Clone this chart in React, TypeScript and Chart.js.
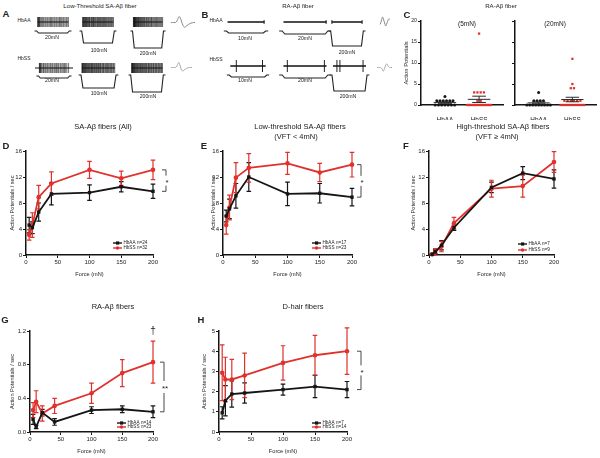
import React, { useEffect, useRef } from 'react';
import { Chart, registerables } from 'chart.js';
Chart.register(...registerables);

const FONT = "'Liberation Sans', Arial, Helvetica, sans-serif";
const RED = '#e0312d';
const BLK = '#151515';

// ---------- D–H : force–response data ----------
const forces = [5, 10, 20, 40, 100, 150, 200];
const forceTicks = [0, 50, 100, 150, 200];

const allAA = [4.6, 4.2, 6.6, 9.4, 9.6, 10.5, 9.8];
const allAAErr = [1.2, 0.9, 1.4, 1.7, 1.2, 0.8, 1.1];
const allSS = [3.1, 4.6, 8.9, 11.0, 13.1, 11.8, 13.1];
const allSSErr = [0.8, 1.9, 1.8, 1.8, 1.3, 1.1, 1.5];

const lowAA = [6.0, 7.1, 9.1, 12.0, 9.4, 9.5, 8.9];
const lowAAErr = [0.9, 1.5, 1.9, 2.2, 1.8, 1.5, 1.35];
const lowSS = [4.6, 7.3, 11.9, 13.4, 14.1, 12.7, 13.9];
const lowSSErr = [1.4, 1.9, 2.3, 2.2, 1.7, 1.4, 1.9];

const highAA = [0.1, 0.5, 1.5, 4.2, 10.4, 12.6, 11.7];
const highAAErr = [0.1, 0.3, 0.7, 0.4, 0.8, 1.0, 1.4];
const highSS = [0.1, 0.5, 1.3, 4.9, 10.2, 10.6, 14.3];
const highSSErr = [0.1, 0.5, 0.8, 0.9, 1.3, 1.7, 1.6];

const raAA = [0.15, 0.06, 0.23, 0.12, 0.26, 0.27, 0.24];
const raAAErr = [0.06, 0.02, 0.04, 0.04, 0.04, 0.04, 0.07];
const raSS = [0.26, 0.36, 0.22, 0.31, 0.46, 0.70, 0.83];
const raSSErr = [0.09, 0.13, 0.09, 0.09, 0.12, 0.16, 0.25];

const dhAA = [0.95, 1.55, 1.88, 1.93, 2.1, 2.25, 2.1];
const dhAAErr = [0.3, 0.75, 0.65, 0.5, 0.27, 0.55, 0.4];
const dhSS = [2.93, 2.6, 2.6, 2.8, 3.42, 3.8, 4.0];
const dhSSErr = [1.38, 1.1, 1.0, 1.1, 0.85, 0.98, 1.15];

const ticks16 = [0, 4, 8, 12, 16];
const ticksRA = [0, 0.4, 0.8, 1.2];
const ticksDH = [0, 1, 2, 3, 4, 5];

// ---------- C : dot plots ----------
const cGroups = ['HbAA', 'HbSS'];
const cTicks = [0, 5, 10, 15, 20];
const c5AA = [2, 1, 1, 1, 1, 1, 1, 0, 0, 0, 0, 0, 0, 0];
const c5SS = [17, 3, 3, 3, 3, 1, 1, 0, 0, 0, 0, 0, 0, 0, 0, 0, 0, 0, 0, 0, 0, 0, 0];
const c20AA = [3, 1, 1, 1, 1, 0, 0, 0, 0, 0, 0, 0, 0, 0];
const c20SS = [11, 5, 4, 4, 1, 1, 1, 1, 1, 1, 0, 0, 0, 0, 0, 0, 0, 0, 0, 0, 0, 0, 0];

// ---------- A/B : recordings ----------
const stepT = [-10, -3, 3, 97, 103, 110];
const stepLevel = [0, 0, 1, 1, 0, 0];
const spkAA20 = [0, 1.5, 3, 4.5, 6, 8, 11, 14, 17, 20, 24, 27, 31, 34, 38, 42, 45, 49, 53, 56, 60, 63, 67, 71, 74, 78, 82, 85, 89, 93, 96, 100];
const spkAA100 = [0, 1, 3, 4, 6, 8, 9, 11, 13, 14, 16, 19, 21, 22, 24, 27, 29, 31, 33, 35, 36, 39, 41, 43, 46, 48, 50, 52, 55, 57, 59, 61, 64, 66, 68, 71, 73, 75, 78, 80, 83, 85, 88, 90, 93, 95, 98, 100];
const spkAA200 = [0, 1, 2, 3, 4, 5, 6, 7, 9, 10, 12, 13, 15, 17, 18, 20, 22, 24, 26, 28, 31, 33, 35, 38, 40, 43, 45, 48, 51, 53, 56, 59, 62, 64, 67, 70, 73, 76, 79, 82, 85, 88, 91, 94, 97, 100];
const spkSS20 = [0, 1, 2, 4, 6, 9, 13, 15, 19, 22, 26, 29, 33, 37, 40, 44, 47, 52, 56, 59, 63, 66, 71, 74, 78, 82, 86, 90, 94, 100];
const spkSS100 = [0, 1, 2, 3, 5, 6, 8, 9, 11, 12, 14, 16, 18, 19, 21, 23, 25, 27, 29, 30, 32, 34, 36, 38, 40, 42, 44, 46, 48, 50, 52, 54, 56, 58, 61, 63, 65, 67, 70, 72, 74, 77, 79, 81, 84, 86, 89, 91, 94, 96, 99];
const spkSS200 = [0, 1, 2, 3, 4, 6, 7, 9, 10, 12, 14, 15, 17, 19, 21, 23, 25, 27, 29, 31, 33, 35, 37, 39, 42, 44, 46, 48, 50, 53, 55, 57, 59, 62, 64, 66, 69, 71, 73, 76, 78, 81, 83, 86, 88, 91, 93, 96, 98, 100];
const spkRaAA10 = [99];
const spkRaAA20 = [99];
const spkRaAA200 = [1, 99];
const spkRaSS10 = [17, 91];
const spkRaSS20 = [9, 95];
const spkRaSS200 = [12, 21, 91];
const waveAA = [0, 0, 0, 0, 0.1, 0.5, 1, 0.8, 0.1, -0.5, -0.8, -0.7, -0.5, -0.35, -0.2, -0.1, -0.05, 0, 0];
const waveSS = [0, 0, 0, 0, 0.1, 0.6, 1, 0.3, -0.5, -0.7, -0.5, -0.3, -0.15, -0.05, 0, 0, 0];
const waveRaAA = [-0.6, -0.2, 0.4, 0.9, 0.6, 0, -0.6, -0.9, -0.5, 0, 0.4, 0.5, 0.4];
const waveRaSS = [0, 0, 0, 0, -0.3, -0.9, -0.3, 0.6, 0.9, 0.3, 0, 0, 0];

// ---------- helpers ----------
function ChartBox({ left, top, width, height, make }: { left: number; top: number; width: number; height: number; make: () => any }) {
  const ref = useRef<HTMLCanvasElement | null>(null);
  useEffect(() => {
    const chart = new Chart(ref.current as HTMLCanvasElement, make());
    return () => chart.destroy();
  }, []);
  return (
    <canvas
      ref={ref}
      width={width}
      height={height}
      style={{ position: 'absolute', left, top, width, height }}
    />
  );
}

function Label({ x, y, text, size = 6, bold = false, color = '#222' }: { x: number; y: number; text: string; size?: number; bold?: boolean; color?: string }) {
  return (
    <div
      style={{
        position: 'absolute', left: x, top: y, transform: 'translate(-50%, -50%)',
        fontFamily: FONT, fontSize: size, fontWeight: bold ? 700 : 400, color,
        whiteSpace: 'nowrap', lineHeight: 1,
      }}
    >
      {text}
    </div>
  );
}

const baseOpts = {
  responsive: false,
  animation: false,
  events: [] as any[],
};

interface PanelSpec {
  left: number; top: number; width: number; height: number;
  yAxisW: number; xAxisH: number; padTop: number; padRight: number;
  yTitleX: number; xTitleY: number;
  yMax: number; yTicks: number[]; yDec: number;
  aa: number[]; aaErr: number[]; ss: number[]; ssErr: number[];
  nAA: string; nSS: string;
  legDx: number; legDy: number[];
  sig?: string; sigDx?: number; sigGap?: number; dagger?: boolean;
}

function panelConfig(p: PanelSpec) {
  const titleSize = 5.6;
  const lh = titleSize * 1.2;
  const errs = [p.aaErr, p.ssErr];
  const colors = [BLK, RED];
  const errPlugin = {
    id: 'errBars',
    beforeDatasetsDraw(chart: any) {
      const { ctx, scales } = chart;
      chart.data.datasets.forEach((ds: any, di: number) => {
        ctx.save();
        ctx.strokeStyle = colors[di];
        ctx.lineWidth = 1.2;
        ds.data.forEach((pt: any, i: number) => {
          const x = scales.x.getPixelForValue(pt.x);
          const yt = scales.y.getPixelForValue(pt.y + errs[di][i]);
          const yb = scales.y.getPixelForValue(Math.max(0, pt.y - errs[di][i]));
          ctx.beginPath();
          ctx.moveTo(x, yt); ctx.lineTo(x, yb);
          ctx.moveTo(x - 2.3, yt); ctx.lineTo(x + 2.3, yt);
          ctx.moveTo(x - 2.3, yb); ctx.lineTo(x + 2.3, yb);
          ctx.stroke();
        });
        ctx.restore();
      });
    },
  };
  const annPlugin = {
    id: 'ann',
    afterDraw(chart: any) {
      const { ctx, chartArea: a, scales } = chart;
      const labels = ['HbAA', 'HbSS'];
      const ns = [p.nAA, p.nSS];
      labels.forEach((lab, i) => {
        const y = a.bottom - p.legDy[i];
        const x0 = a.right - p.legDx;
        ctx.save();
        ctx.strokeStyle = colors[i];
        ctx.fillStyle = colors[i];
        ctx.lineWidth = 1.4;
        ctx.beginPath(); ctx.moveTo(x0, y); ctx.lineTo(x0 + 9, y); ctx.stroke();
        if (i === 0) ctx.fillRect(x0 + 3, y - 1.6, 3.2, 3.2);
        else { ctx.beginPath(); ctx.arc(x0 + 4.5, y, 1.7, 0, Math.PI * 2); ctx.fill(); }
        ctx.fillStyle = '#222';
        ctx.font = `4.6px ${FONT}`;
        ctx.textBaseline = 'middle';
        ctx.fillText(lab, x0 + 10.5, y);
        ctx.fillText(ns[i], x0 + 24, y);
        ctx.restore();
      });
      if (p.sig) {
        const last = forces.length - 1;
        const x = a.right + (p.sigDx || 10);
        const yT = scales.y.getPixelForValue(p.ss[last]);
        const yB = scales.y.getPixelForValue(p.aa[last]);
        const mid = (yT + yB) / 2;
        const g = p.sigGap || 5;
        ctx.save();
        ctx.strokeStyle = '#333';
        ctx.lineWidth = 0.9;
        ctx.beginPath();
        ctx.moveTo(x - 4, yT); ctx.lineTo(x, yT); ctx.lineTo(x, mid - g);
        ctx.moveTo(x, mid + g); ctx.lineTo(x, yB); ctx.lineTo(x - 4, yB);
        ctx.stroke();
        ctx.fillStyle = '#222';
        ctx.font = `8px ${FONT}`;
        ctx.textAlign = 'center';
        ctx.textBaseline = 'middle';
        ctx.fillText(p.sig, x + 1, mid + 2);
        if (p.dagger) {
          const xd = scales.x.getPixelForValue(forces[last]);
          const yd = scales.y.getPixelForValue(p.ss[last] + p.ssErr[last]);
          ctx.font = `10px ${FONT}`;
          ctx.fillText('†', xd, yd - 10);
        }
        ctx.restore();
      }
    },
  };
  const tickFont = { family: FONT, size: 6 };
  const mk = (vals: number[], i: number) => ({
    label: ['HbAA', 'HbSS'][i],
    data: forces.map((f, k) => ({ x: f, y: vals[k] })),
    borderColor: colors[i],
    backgroundColor: colors[i],
    borderWidth: 1.8,
    pointStyle: i === 0 ? 'rect' : 'circle',
    pointRadius: i === 0 ? 2.4 : 2.3,
    pointBorderWidth: 0,
    clip: false,
  });
  return {
    type: 'line',
    data: { datasets: [mk(p.aa, 0), mk(p.ss, 1)] },
    options: {
      ...baseOpts,
      layout: { padding: { top: p.padTop, right: p.padRight, left: 0, bottom: 0 } },
      plugins: { legend: { display: false }, tooltip: { enabled: false } },
      scales: {
        x: {
          type: 'linear', min: 0, max: 200,
          afterBuildTicks: (s: any) => { s.ticks = forceTicks.map((v) => ({ value: v })); },
          afterFit: (s: any) => { s.height = p.xAxisH; },
          grid: { display: true, drawOnChartArea: false, drawTicks: true, tickLength: 3, color: BLK, lineWidth: 1 },
          border: { display: true, color: BLK, width: 1.5 },
          ticks: { font: tickFont, color: '#222', padding: 1, maxRotation: 0, autoSkip: false },
          title: {
            display: true, text: 'Force (mN)', color: '#222',
            font: { family: FONT, size: titleSize },
            padding: { top: 0, bottom: p.top + p.height - p.xTitleY - lh / 2 },
          },
        },
        y: {
          type: 'linear', min: 0, max: p.yMax,
          afterBuildTicks: (s: any) => { s.ticks = p.yTicks.map((v) => ({ value: v })); },
          afterFit: (s: any) => { s.width = p.yAxisW; },
          grid: { display: true, drawOnChartArea: false, drawTicks: true, tickLength: 3, color: BLK, lineWidth: 1 },
          border: { display: true, color: BLK, width: 1.5 },
          ticks: { font: tickFont, color: '#222', padding: 1, callback: (v: any) => Number(v).toFixed(p.yDec) },
          title: {
            display: true, text: 'Action Potentials / sec', color: '#222',
            font: { family: FONT, size: titleSize },
            padding: { top: p.yTitleX - p.left - lh / 2, bottom: 0 },
          },
        },
      },
    },
    plugins: [errPlugin, annPlugin],
  };
}

function spreadDots(vals: number[], center: number) {
  const counts = new Map<number, number>();
  const seen = new Map<number, number>();
  vals.forEach((v) => counts.set(v, (counts.get(v) || 0) + 1));
  return vals.map((v) => {
    const n = counts.get(v) as number;
    const k = seen.get(v) || 0;
    seen.set(v, k + 1);
    const step = n > 1 ? Math.min(0.095, 0.7 / (n - 1)) : 0;
    return { x: center + (k - (n - 1) / 2) * step, y: v };
  });
}

function dotConfig(aa: number[], ss: number[], withLabels: boolean, yAxisW: number, padTop: number, padRight: number, xAxisH: number) {
  const groups = [aa, ss];
  const meanPlugin = {
    id: 'meanSem',
    afterDatasetsDraw(chart: any) {
      const { ctx, scales } = chart;
      groups.forEach((vals, gi) => {
        const c = gi + 1;
        const n = vals.length;
        const m = vals.reduce((a, b) => a + b, 0) / n;
        const sd = Math.sqrt(vals.reduce((a, b) => a + (b - m) * (b - m), 0) / (n - 1));
        const se = sd / Math.sqrt(n);
        const ym = scales.y.getPixelForValue(m);
        const yt = scales.y.getPixelForValue(m + se);
        const yb = scales.y.getPixelForValue(m - se);
        const xm0 = scales.x.getPixelForValue(c - 0.33);
        const xm1 = scales.x.getPixelForValue(c + 0.33);
        const xs0 = scales.x.getPixelForValue(c - 0.2);
        const xs1 = scales.x.getPixelForValue(c + 0.2);
        const xc = scales.x.getPixelForValue(c);
        ctx.save();
        ctx.strokeStyle = '#2a2a2a';
        ctx.lineWidth = 1;
        ctx.beginPath();
        ctx.moveTo(xm0, ym); ctx.lineTo(xm1, ym);
        ctx.moveTo(xc, yt); ctx.lineTo(xc, yb);
        ctx.moveTo(xs0, yt); ctx.lineTo(xs1, yt);
        ctx.moveTo(xs0, yb); ctx.lineTo(xs1, yb);
        ctx.stroke();
        ctx.restore();
      });
    },
  };
  return {
    type: 'scatter',
    data: {
      datasets: [
        { data: spreadDots(aa, 1), backgroundColor: BLK, borderWidth: 0, pointRadius: 1.5, pointStyle: 'circle', clip: false },
        { data: spreadDots(ss, 2), backgroundColor: RED, borderWidth: 0, pointRadius: 1.6, pointStyle: 'rect', clip: false },
      ],
    },
    options: {
      ...baseOpts,
      layout: { padding: { top: padTop, right: padRight, left: 0, bottom: 0 } },
      plugins: { legend: { display: false }, tooltip: { enabled: false } },
      scales: {
        x: {
          type: 'linear', min: 0.3, max: 2.7,
          afterBuildTicks: (s: any) => { s.ticks = [1, 2].map((v) => ({ value: v })); },
          afterFit: (s: any) => { s.height = xAxisH; },
          grid: { display: false },
          border: { display: true, color: BLK, width: 1.5 },
          ticks: { font: { family: FONT, size: 6.4 }, color: '#222', padding: 3, maxRotation: 0, autoSkip: false, callback: (_v: any, i: number) => cGroups[i] },
        },
        y: {
          type: 'linear', min: 0, max: 20,
          afterBuildTicks: (s: any) => { s.ticks = cTicks.map((v) => ({ value: v })); },
          afterFit: (s: any) => { s.width = yAxisW; },
          grid: { display: true, drawOnChartArea: false, drawTicks: true, tickLength: 3, color: BLK, lineWidth: 1 },
          border: { display: true, color: BLK, width: 1.5 },
          ticks: { display: withLabels, font: { family: FONT, size: 5.2 }, color: '#222', padding: 1 },
          title: {
            display: withLabels, text: 'Action Potentials', color: '#222',
            font: { family: FONT, size: 5.8 }, padding: { top: 7.5, bottom: 0 },
          },
        },
      },
    },
    plugins: [meanPlugin],
  };
}

interface TraceSpec {
  s0: number; s1: number; baseY: number; off: number; half: number; depth: number;
  spikes: number[]; lineFrom: number; lineTo: number; lineW: number; spikeColor: string;
}

function traceBox(t: TraceSpec) {
  const ppu = (t.s1 - t.s0) / 100;
  const left = Math.round(t.s0 - 15 * ppu);
  const width = Math.round(130 * ppu);
  const top = Math.round(t.baseY - t.off - 8);
  const height = Math.round(t.off + 8 + t.depth + 3);
  return { left, top, width, height };
}

function traceConfig(t: TraceSpec) {
  const b = traceBox(t);
  const yMax = t.off + 8;
  const yMin = yMax - b.height;
  const spikeData = t.spikes.flatMap((s) => [
    { x: s, y: t.off - t.half }, { x: s, y: t.off + t.half }, { x: s, y: null },
  ]);
  return {
    type: 'line',
    data: {
      datasets: [
        { data: stepT.map((tt, i) => ({ x: tt, y: -t.depth * stepLevel[i] })), borderColor: '#222', borderWidth: 1.1, pointRadius: 0 },
        { data: [{ x: t.lineFrom, y: t.off }, { x: t.lineTo, y: t.off }], borderColor: '#111', borderWidth: t.lineW, pointRadius: 0 },
        { data: spikeData, borderColor: t.spikeColor, borderWidth: 1, pointRadius: 0, spanGaps: false },
      ],
    },
    options: {
      ...baseOpts,
      layout: { padding: 0 },
      plugins: { legend: { display: false }, tooltip: { enabled: false } },
      scales: {
        x: { type: 'linear', display: false, min: -15, max: 115 },
        y: { type: 'linear', display: false, min: yMin, max: yMax },
      },
    },
  };
}

function waveConfig(wave: number[], color: string) {
  return {
    type: 'line',
    data: {
      labels: wave.map((_, i) => i),
      datasets: [{ data: wave, borderColor: color, borderWidth: 1, pointRadius: 0, tension: 0.35 }],
    },
    options: {
      ...baseOpts,
      layout: { padding: 1 },
      plugins: { legend: { display: false }, tooltip: { enabled: false } },
      scales: { x: { display: false }, y: { display: false, min: -1.1, max: 1.1 } },
    },
  };
}

const SPK = 'rgba(0,0,0,0.55)';
const traces: TraceSpec[] = [
  // A – HbAA
  { s0: 38, s1: 69, baseY: 31, off: 9, half: 5, depth: 2, spikes: spkAA20, lineFrom: 0, lineTo: 100, lineW: 1, spikeColor: SPK },
  { s0: 83, s1: 114, baseY: 31, off: 9, half: 5, depth: 12, spikes: spkAA100, lineFrom: 0, lineTo: 100, lineW: 1, spikeColor: SPK },
  { s0: 133, s1: 162, baseY: 31, off: 9, half: 5, depth: 17, spikes: spkAA200, lineFrom: 0, lineTo: 100, lineW: 1, spikeColor: SPK },
  // A – HbSS
  { s0: 39, s1: 68, baseY: 76, off: 8, half: 5, depth: 2, spikes: spkSS20, lineFrom: -15, lineTo: 115, lineW: 1, spikeColor: SPK },
  { s0: 82, s1: 115, baseY: 75, off: 7, half: 5, depth: 13, spikes: spkSS100, lineFrom: 0, lineTo: 100, lineW: 1, spikeColor: SPK },
  { s0: 132, s1: 163, baseY: 75, off: 7, half: 5, depth: 17, spikes: spkSS200, lineFrom: 0, lineTo: 100, lineW: 1, spikeColor: SPK },
  // B – HbAA
  { s0: 228, s1: 265, baseY: 31, off: 9, half: 2, depth: 2, spikes: spkRaAA10, lineFrom: 0, lineTo: 100, lineW: 1.5, spikeColor: '#333' },
  { s0: 283, s1: 326, baseY: 31, off: 9, half: 2, depth: 3, spikes: spkRaAA20, lineFrom: 0, lineTo: 100, lineW: 1.5, spikeColor: '#333' },
  { s0: 332, s1: 363, baseY: 31, off: 9, half: 2, depth: 15, spikes: spkRaAA200, lineFrom: 0, lineTo: 100, lineW: 1.5, spikeColor: '#333' },
  // B – HbSS
  { s0: 230, s1: 265, baseY: 75, off: 9, half: 6, depth: 2, spikes: spkRaSS10, lineFrom: 0, lineTo: 100, lineW: 1.6, spikeColor: '#222' },
  { s0: 283, s1: 326, baseY: 75, off: 9, half: 6, depth: 3, spikes: spkRaSS20, lineFrom: 0, lineTo: 100, lineW: 1.6, spikeColor: '#222' },
  { s0: 333, s1: 366, baseY: 75, off: 9, half: 6, depth: 16, spikes: spkRaSS200, lineFrom: 0, lineTo: 100, lineW: 1.6, spikeColor: '#222' },
];

const panels: PanelSpec[] = [
  { left: 0, top: 140, width: 178, height: 145, yAxisW: 26, xAxisH: 30, padTop: 11, padRight: 25, yTitleX: 12, xTitleY: 274,
    yMax: 16, yTicks: ticks16, yDec: 0, aa: allAA, aaErr: allAAErr, ss: allSS, ssErr: allSSErr, nAA: 'n=24', nSS: 'n=32',
    legDx: 40, legDy: [12, 7], sig: '*', sigDx: 13, sigGap: 5 },
  { left: 197, top: 140, width: 180, height: 145, yAxisW: 26, xAxisH: 30, padTop: 11, padRight: 25, yTitleX: 213, xTitleY: 274,
    yMax: 16, yTicks: ticks16, yDec: 0, aa: lowAA, aaErr: lowAAErr, ss: lowSS, ssErr: lowSSErr, nAA: 'n=17', nSS: 'n=23',
    legDx: 40, legDy: [12, 7], sig: '*', sigDx: 9, sigGap: 5 },
  { left: 400, top: 140, width: 178, height: 145, yAxisW: 29, xAxisH: 30, padTop: 11, padRight: 24, yTitleX: 413, xTitleY: 274,
    yMax: 16, yTicks: ticks16, yDec: 0, aa: highAA, aaErr: highAAErr, ss: highSS, ssErr: highSSErr, nAA: 'n=7', nSS: 'n=9',
    legDx: 36, legDy: [11, 5] },
  { left: 0, top: 320, width: 178, height: 138, yAxisW: 30, xAxisH: 26, padTop: 11, padRight: 25, yTitleX: 12, xTitleY: 451,
    yMax: 1.2, yTicks: ticksRA, yDec: 1, aa: raAA, aaErr: raAAErr, ss: raSS, ssErr: raSSErr, nAA: 'n=14', nSS: 'n=23',
    legDx: 36, legDy: [9, 5], sig: '**', sigDx: 11, sigGap: 6, dagger: true },
  { left: 193, top: 320, width: 180, height: 138, yAxisW: 26, xAxisH: 26, padTop: 11, padRight: 26, yTitleX: 204, xTitleY: 451,
    yMax: 5, yTicks: ticksDH, yDec: 0, aa: dhAA, aaErr: dhAAErr, ss: dhSS, ssErr: dhSSErr, nAA: 'n=7', nSS: 'n=14',
    legDx: 35, legDy: [9, 5], sig: '*', sigDx: 14, sigGap: 5 },
];

const labels: { x: number; y: number; text: string; size?: number; bold?: boolean }[] = [
  { x: 6, y: 14, text: 'A', size: 9.5, bold: true },
  { x: 100, y: 6, text: 'Low-Threshold SA-Aβ fiber', size: 6.1 },
  { x: 24, y: 20, text: 'HbAA', size: 5 },
  { x: 24, y: 58, text: 'HbSS', size: 5 },
  { x: 52, y: 38, text: '20mN', size: 5.2 },
  { x: 99, y: 51, text: '100mN', size: 5.2 },
  { x: 148, y: 54, text: '200mN', size: 5.2 },
  { x: 52, y: 81, text: '20mN', size: 5.2 },
  { x: 99, y: 94, text: '100mN', size: 5.2 },
  { x: 148, y: 97, text: '200mN', size: 5.2 },
  { x: 205, y: 15, text: 'B', size: 9.5, bold: true },
  { x: 298, y: 6, text: 'RA-Aβ fiber', size: 6.1 },
  { x: 216, y: 20, text: 'HbAA', size: 5 },
  { x: 216, y: 59, text: 'HbSS', size: 5 },
  { x: 245, y: 39, text: '10mN', size: 5.2 },
  { x: 305, y: 39, text: '20mN', size: 5.2 },
  { x: 347, y: 53, text: '200mN', size: 5.2 },
  { x: 245, y: 81, text: '10mN', size: 5.2 },
  { x: 305, y: 81, text: '20mN', size: 5.2 },
  { x: 348, y: 97, text: '200mN', size: 5.2 },
  { x: 407, y: 15, text: 'C', size: 9.5, bold: true },
  { x: 501, y: 6, text: 'RA-Aβ fiber', size: 6.1 },
  { x: 467, y: 24, text: '(5mN)', size: 6.5 },
  { x: 555, y: 24, text: '(20mN)', size: 6.5 },
  { x: 6, y: 146, text: 'D', size: 9.5, bold: true },
  { x: 103, y: 127, text: 'SA-Aβ fibers (All)', size: 7.5 },
  { x: 204, y: 146, text: 'E', size: 9.5, bold: true },
  { x: 300, y: 127, text: 'Low-threshold SA-Aβ fibers', size: 7.5 },
  { x: 296, y: 137, text: '(VFT < 4mN)', size: 7.5 },
  { x: 406, y: 146, text: 'F', size: 9.5, bold: true },
  { x: 503, y: 127, text: 'High-threshold SA-Aβ fibers', size: 7.5 },
  { x: 497, y: 137, text: '(VFT ≥ 4mN)', size: 7.5 },
  { x: 5, y: 320, text: 'G', size: 9.5, bold: true },
  { x: 113, y: 307, text: 'RA-Aβ fibers', size: 7.5 },
  { x: 201, y: 320, text: 'H', size: 9.5, bold: true },
  { x: 303, y: 307, text: 'D-hair fibers', size: 7.5 },
];

export default function App() {
  return (
    <div style={{ position: 'fixed', left: 0, top: 0, width: 600, height: 458, background: '#fff', overflow: 'hidden', fontFamily: FONT }}>
      {traces.map((t, i) => {
        const b = traceBox(t);
        return <ChartBox key={'t' + i} {...b} make={() => traceConfig(t)} />;
      })}
      <ChartBox left={170} top={15} width={26} height={15} make={() => waveConfig(waveAA, '#888')} />
      <ChartBox left={170} top={61} width={23} height={13} make={() => waveConfig(waveSS, '#aaa')} />
      <ChartBox left={379} top={15} width={12} height={13} make={() => waveConfig(waveRaAA, '#888')} />
      <ChartBox left={376} top={62} width={17} height={11} make={() => waveConfig(waveRaSS, '#aaa')} />
      <ChartBox left={395} top={10} width={112} height={110} make={() => dotConfig(c5AA, c5SS, true, 26, 11, 3, 15)} />
      <ChartBox left={508} top={10} width={92} height={110} make={() => dotConfig(c20AA, c20SS, false, 7, 11, 2, 15)} />
      {panels.map((p, i) => (
        <ChartBox key={'p' + i} left={p.left} top={p.top} width={p.width} height={p.height} make={() => panelConfig(p)} />
      ))}
      {labels.map((l, i) => (
        <Label key={'l' + i} x={l.x} y={l.y} text={l.text} size={l.size} bold={l.bold} />
      ))}
    </div>
  );
}
